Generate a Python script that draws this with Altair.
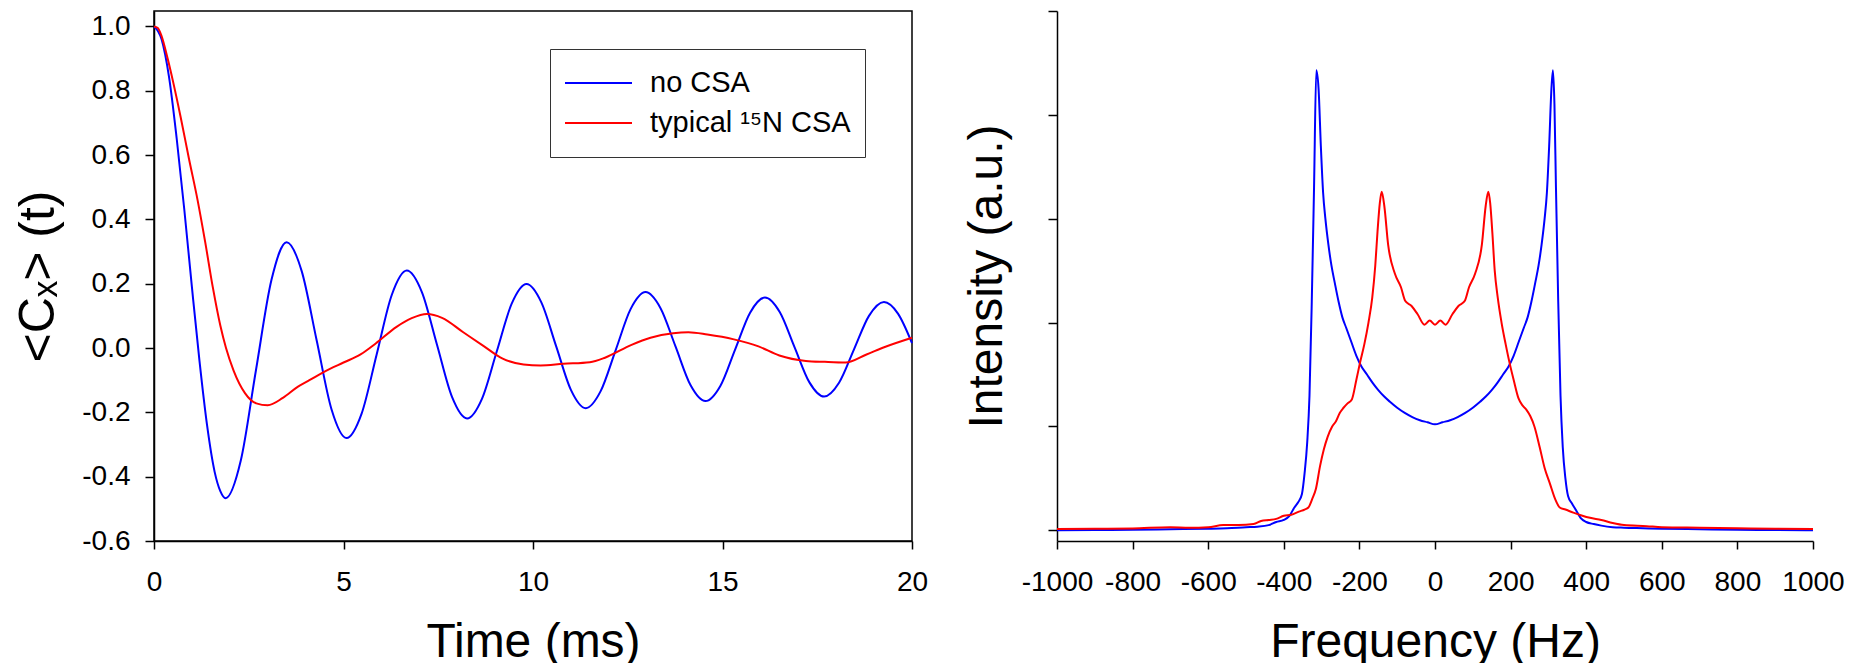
import altair as alt
import pandas as pd

# ---------------- data ----------------
series_names = ["no CSA", "typical ¹⁵N CSA"]
series_colors = ["#0000ff", "#ff0000"]

# Left panel: <Cx>(t) versus time (ms)
time_blue = [0, 0.2, 0.4, 0.6, 0.8, 1.0, 1.2, 1.4, 1.6, 1.75, 1.89, 2.29, 2.69, 3.10,
             3.50, 3.895, 4.29, 4.685, 5.08, 5.478, 5.875, 6.273, 6.67, 7.068, 7.465,
             7.863, 8.26, 8.653, 9.045, 9.438, 9.83, 10.22, 10.61, 11.0, 11.39, 11.785,
             12.18, 12.575, 12.97, 13.365, 13.76, 14.155, 14.55, 14.943, 15.335, 15.728,
             16.12, 16.51, 16.90, 17.29, 17.68, 18.075, 18.47, 18.865, 19.26, 19.63, 20.0]
cx_blue = [1.0, 0.96, 0.84, 0.65, 0.43, 0.19, -0.04, -0.24, -0.385, -0.445, -0.467,
           -0.350, -0.069, 0.212, 0.329, 0.240, 0.025, -0.191, -0.280, -0.204, -0.020,
           0.165, 0.241, 0.174, 0.011, -0.152, -0.219, -0.158, -0.010, 0.138, 0.199,
           0.142, 0.006, -0.130, -0.187, -0.134, -0.007, 0.121, 0.174, 0.124, 0.005,
           -0.115, -0.165, -0.118, -0.004, 0.110, 0.157, 0.112, 0.003, -0.106, -0.151,
           -0.108, -0.004, 0.100, 0.143, 0.107, 0.015]

time_red = [0, 0.1, 0.2, 0.35, 0.5, 0.7, 0.92, 1.15, 1.35, 1.55, 1.75, 1.9, 2.1, 2.4,
            2.7, 3.0, 3.4, 3.8, 4.1, 4.5, 5.0, 5.45, 5.85, 6.4, 6.8, 7.2, 7.6, 8.15, 8.7,
            9.2, 9.75, 10.2, 10.8, 11.5, 11.9, 12.6, 13.1, 13.7, 14.1, 14.6, 15.3, 15.95,
            16.5, 17.2, 17.7, 18.25, 18.8, 19.3, 20.0]
cx_red = [1.0, 0.995, 0.97, 0.905, 0.83, 0.72, 0.59, 0.46, 0.33, 0.19, 0.07, 0.0,
          -0.07, -0.14, -0.172, -0.178, -0.155, -0.12, -0.10, -0.073, -0.045, -0.02,
          0.014, 0.066, 0.093, 0.106, 0.094, 0.05, 0.006, -0.033, -0.051, -0.054,
          -0.049, -0.044, -0.03, 0.01, 0.032, 0.046, 0.049, 0.042, 0.027, 0.005,
          -0.023, -0.04, -0.043, -0.045, -0.02, 0.004, 0.032]

# Right panel: spectrum intensity (a.u.) versus frequency (Hz)
freq_blue = [-1000, -900, -800, -700, -600, -550, -500, -470, -440, -420, -400, -385,
             -372, -362, -352, -345, -338, -332, -326, -320, -314, -308, -302, -296,
             -290, -282, -274, -265, -255, -245, -235, -222, -208, -195, -180, -165,
             -150, -135, -120, -100, -80, -60, -40, -20, 0, 20, 40, 60, 80, 100, 120,
             135, 150, 165, 180, 195, 208, 222, 235, 245, 255, 265, 274, 282, 290, 296,
             302, 308, 312, 316, 320, 326, 332, 338, 345, 352, 362, 372, 385, 400, 420,
             440, 470, 500, 550, 600, 700, 800, 900, 1000]
int_blue = [0.0, 0.003, 0.005, 0.01, 0.015, 0.02, 0.03, 0.035, 0.05, 0.08, 0.10, 0.14,
            0.22, 0.27, 0.35, 0.55, 0.85, 1.3, 2.2, 3.3, 4.43, 4.25, 3.7, 3.25, 3.0,
            2.75, 2.55, 2.38, 2.2, 2.05, 1.95, 1.82, 1.68, 1.58, 1.5, 1.42, 1.35, 1.29,
            1.24, 1.18, 1.13, 1.09, 1.06, 1.04, 1.02, 1.04, 1.06, 1.09, 1.13, 1.18, 1.24,
            1.29, 1.35, 1.42, 1.5, 1.58, 1.68, 1.82, 1.95, 2.05, 2.2, 2.38, 2.55, 2.75,
            3.0, 3.25, 3.7, 4.25, 4.43, 4.1, 3.3, 2.2, 1.3, 0.8, 0.5, 0.33, 0.26, 0.2,
            0.12, 0.08, 0.06, 0.045, 0.03, 0.025, 0.02, 0.015, 0.01, 0.005, 0.003, 0.0]

freq_red = [-1000, -900, -800, -700, -650, -600, -560, -520, -480, -460, -440, -420,
            -400, -380, -360, -345, -335, -325, -315, -304, -294, -284, -272, -262,
            -252, -242, -232, -220, -208, -198, -187, -176, -166, -158, -152, -146,
            -141, -134, -124, -106, -90, -79, -62, -46, -28, -14, 0, 14, 28, 46, 62, 79,
            90, 106, 124, 134, 141, 146, 152, 158, 166, 176, 187, 198, 208, 221, 232,
            242, 252, 263, 277, 290, 304, 318, 330, 345, 366, 390, 410, 440, 470, 500,
            560, 600, 700, 800, 900, 1000]
int_red = [0.012, 0.015, 0.018, 0.03, 0.025, 0.03, 0.05, 0.05, 0.06, 0.09, 0.10, 0.11,
           0.14, 0.15, 0.18, 0.20, 0.22, 0.30, 0.40, 0.62, 0.78, 0.90, 1.0, 1.05, 1.13,
           1.18, 1.22, 1.26, 1.45, 1.62, 1.79, 2.0, 2.24, 2.55, 2.88, 3.15, 3.26, 3.12,
           2.75, 2.47, 2.34, 2.21, 2.16, 2.08, 1.98, 2.02, 1.98, 2.02, 1.98, 2.08, 2.16,
           2.21, 2.34, 2.47, 2.75, 3.12, 3.26, 3.15, 2.85, 2.5, 2.24, 2.0, 1.79, 1.6,
           1.45, 1.27, 1.2, 1.16, 1.1, 1.0, 0.8, 0.6, 0.45, 0.3, 0.22, 0.2, 0.17, 0.14,
           0.12, 0.10, 0.07, 0.05, 0.04, 0.03, 0.025, 0.02, 0.015, 0.012]

time_ticks = [0, 5, 10, 15, 20]
cx_ticks = [-0.6, -0.4, -0.2, 0.0, 0.2, 0.4, 0.6, 0.8, 1.0]
freq_ticks = [-1000, -800, -600, -400, -200, 0, 200, 400, 600, 800, 1000]
int_ticks = [0, 1, 2, 3, 4, 5]

# ---------------- tables ----------------
time_df = pd.concat([
    pd.DataFrame({"t": time_blue, "v": cx_blue, "series": series_names[0]}),
    pd.DataFrame({"t": time_red, "v": cx_red, "series": series_names[1]}),
], ignore_index=True)
spec_df = pd.concat([
    pd.DataFrame({"f": freq_blue, "i": int_blue, "series": series_names[0]}),
    pd.DataFrame({"f": freq_red, "i": int_red, "series": series_names[1]}),
], ignore_index=True)

FONT = "Liberation Sans"
MINUS_FIX = "replace(datum.label, '\u2212', '-')"

color_scale = alt.Scale(domain=series_names, range=series_colors)

left = alt.Chart(time_df).mark_line(strokeWidth=2, interpolate="monotone").encode(
    x=alt.X("t:Q", scale=alt.Scale(domain=[0, 20], nice=False),
            axis=alt.Axis(values=time_ticks, title="Time (ms)", format="d",
                          tickSize=8, labelPadding=19, titlePadding=22,
                          titleFontSize=48)),
    y=alt.Y("v:Q", scale=alt.Scale(domain=[-0.6, 1.048], nice=False, zero=False),
            axis=alt.Axis(values=cx_ticks, title="<Cₓ> (t)", format=".1f",
                          labelExpr=MINUS_FIX, tickSize=9, labelPadding=15,
                          titlePadding=18, titleFontSize=50)),
    color=alt.Color("series:N", scale=color_scale,
                    legend=alt.Legend(title=None, orient="none", legendX=396, legendY=38,
                                      direction="vertical", symbolType="stroke",
                                      symbolSize=4489, symbolStrokeWidth=2,
                                      labelFontSize=29, labelOffset=17, clipHeight=40,
                                      rowPadding=0, padding=14, strokeColor="#333333",
                                      fillColor="white", labelLimit=500, labelFont=FONT,
                                      labelColor="black")),
).properties(width=758, height=530,
             view=alt.ViewBackground(stroke="black", strokeWidth=1.5))

right = alt.Chart(spec_df).mark_line(strokeWidth=2, interpolate="monotone").encode(
    x=alt.X("f:Q", scale=alt.Scale(domain=[-1000, 1000], nice=False),
            axis=alt.Axis(values=freq_ticks, title="Frequency (Hz)", format="d",
                          labelExpr=MINUS_FIX, tickSize=8, labelPadding=19,
                          labelOverlap=False, titlePadding=22, titleFontSize=48)),
    y=alt.Y("i:Q", scale=alt.Scale(domain=[-0.103, 5.0], nice=False, zero=False),
            axis=alt.Axis(values=int_ticks, labels=False, title="Intensity (a.u.)",
                          tickSize=9, titlePadding=36, titleFontSize=48)),
    color=alt.Color("series:N", scale=color_scale, legend=None),
).properties(width=756, height=530)

chart = alt.hconcat(left, right, spacing=33).resolve_scale(color="independent").configure(
    font=FONT,
    padding={"left": 13, "top": 9, "right": 5, "bottom": 5},
).configure_view(stroke="transparent").configure_axis(
    grid=False, domainColor="black", tickColor="black", labelColor="black",
    titleColor="black", labelFontSize=28, labelFont=FONT, titleFont=FONT,
    titleFontWeight="normal", domainWidth=1.5, tickWidth=1.5, labelFlush=False,
)

chart.save("out.html", embed_options={"renderer": "svg", "actions": False})
